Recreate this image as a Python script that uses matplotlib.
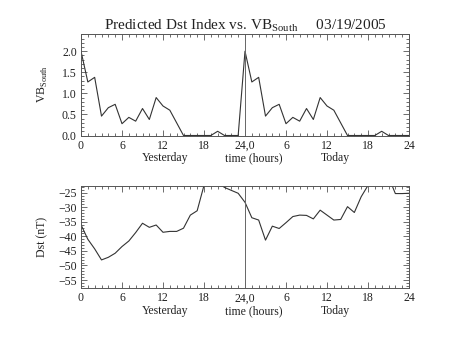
import matplotlib

matplotlib.use("Agg")
import matplotlib.pyplot as plt
from matplotlib.ticker import MultipleLocator, FixedLocator, FormatStrFormatter

plt.rcParams["font.family"] = ["Liberation Serif", "DejaVu Serif"]
plt.rcParams["mathtext.fontset"] = "custom"
plt.rcParams["mathtext.rm"] = "Liberation Serif"

# hours since start of yesterday (0..48)
hours = list(range(49))

vb_south = [
    2.00, 1.27, 1.38, 0.46, 0.66, 0.74, 0.28, 0.43, 0.34, 0.64, 0.38, 0.90,
    0.70, 0.60, 0.30, 0.00, 0.00, 0.00, 0.00, 0.00, 0.10, 0.00, 0.00, 0.00,
    2.00, 1.27, 1.38, 0.46, 0.66, 0.74, 0.28, 0.43, 0.34, 0.64, 0.38, 0.90,
    0.70, 0.60, 0.30, 0.00, 0.00, 0.00, 0.00, 0.00, 0.10, 0.00, 0.00, 0.00,
    0.00,
]

dst = [
    -36.0, -41.0, -44.3, -48.1, -47.2, -45.8, -43.5, -41.6, -38.7, -35.5,
    -36.9, -36.1, -38.6, -38.3, -38.3, -37.2, -32.7, -31.2, -22.5, -21.0,
    -21.5, -23.2, -24.2, -25.2, -28.3, -33.6, -34.4, -41.3, -36.5, -37.3,
    -35.3, -33.2, -32.7, -32.8, -34.0, -31.0, -32.7, -34.4, -34.2, -29.8,
    -31.8, -26.4, -22.5, -20.5, -20.0, -19.5, -25.3, -25.3, -25.2,
]

x_ticks = [0, 6, 12, 18, 24, 30, 36, 42, 48]
x_tick_labels = ["0", "6", "12", "18", "24,0", "6", "12", "18", "24"]
vb_ticks = [0.0, 0.5, 1.0, 1.5, 2.0]
dst_ticks = [-55, -50, -45, -40, -35, -30, -25]

line_col = "#333333"
axis_col = "#555555"
text_col = "#222222"
fs = 8.5

fig = plt.figure(figsize=(4.53, 3.40), dpi=100)
ax_vb = fig.add_axes([81 / 453, 1 - 135.5 / 340, 328 / 453, 102 / 340])
ax_dst = fig.add_axes([81 / 453, 1 - 288.3 / 340, 328 / 453, 102.3 / 340])


def style_axis(ax):
    ax.set_xlim(0, 48)
    ax.xaxis.set_major_locator(FixedLocator(x_ticks))
    ax.set_xticklabels(x_tick_labels)
    ax.xaxis.set_minor_locator(MultipleLocator(1))
    ax.tick_params(which="both", direction="in", top=True, right=True,
                   colors=axis_col, labelcolor=text_col, labelsize=fs,
                   width=0.6)
    ax.tick_params(which="major", length=4)
    ax.tick_params(which="minor", length=2)
    ax.tick_params(axis="x", pad=3)
    ax.tick_params(axis="y", pad=3)
    for sp in ax.spines.values():
        sp.set_color(axis_col)
        sp.set_linewidth(0.7)
    ax.axvline(24, color="#666666", lw=0.7)
    trans = ax.get_xaxis_transform()
    for xpos, txt in [(12.3, "Yesterday"), (25.3, "time (hours)"), (37.2, "Today")]:
        ax.text(xpos, -0.225, txt, transform=trans, ha="center", va="center",
                fontsize=fs, color=text_col)


ax_vb.plot(hours, vb_south, color=line_col, lw=0.8)
ax_vb.set_ylim(0, 2.42)
ax_vb.yaxis.set_major_locator(FixedLocator(vb_ticks))
ax_vb.yaxis.set_minor_locator(MultipleLocator(0.1))
ax_vb.yaxis.set_major_formatter(FormatStrFormatter("%.1f"))
style_axis(ax_vb)
ax_vb.set_ylabel(r"VB$_{\mathrm{South}}$", fontsize=fs, color=text_col)
ax_vb.yaxis.set_label_coords(-0.095, 0.5)
ax_vb.set_title(r"Predicted Dst Index vs. VB$_{\mathrm{South}}$     03/19/2005",
                fontsize=11, color=text_col, pad=3)

ax_dst.plot(hours, dst, color=line_col, lw=0.8)
ax_dst.set_ylim(-57.85, -22.7)
ax_dst.yaxis.set_major_locator(FixedLocator(dst_ticks))
ax_dst.yaxis.set_minor_locator(MultipleLocator(1))
style_axis(ax_dst)
ax_dst.set_ylabel("Dst (nT)", fontsize=fs, color=text_col)
ax_dst.yaxis.set_label_coords(-0.1, 0.5)

fig.savefig("out.png", dpi=100)
plt.close(fig)
